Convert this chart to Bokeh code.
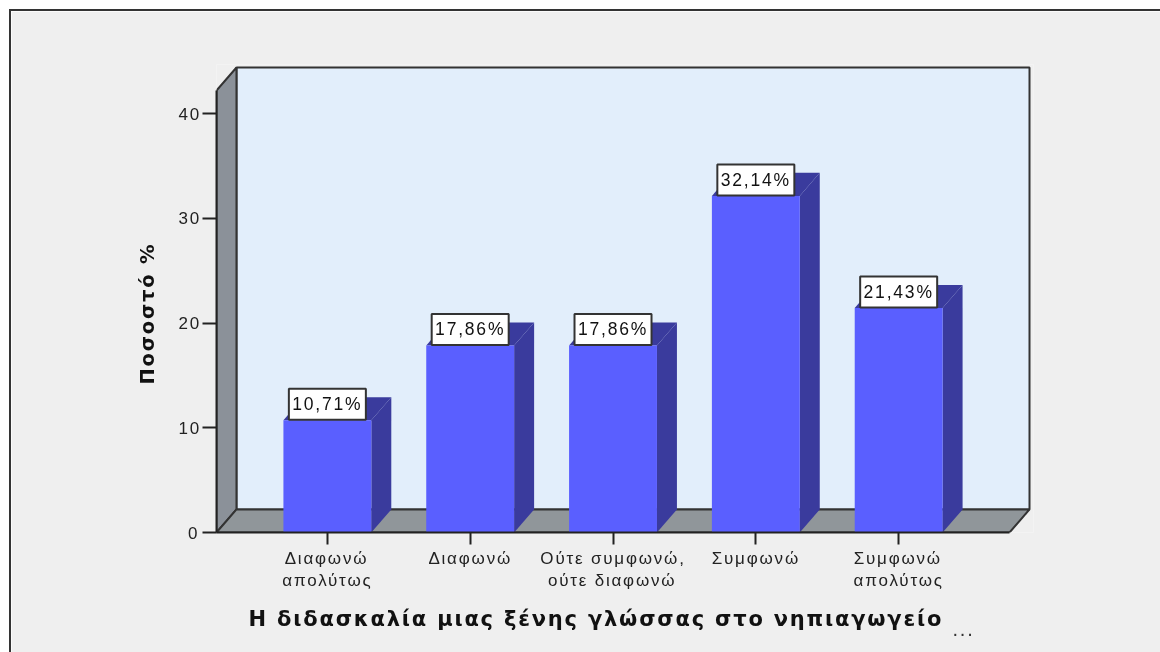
from bokeh.plotting import figure
from bokeh.models import Range1d, FixedTicker, LinearAxis, Title
from bokeh.embed import file_html
from bokeh.resources import INLINE
from bokeh.core.properties import value

categories = ["Διαφωνώ\nαπολύτως", "Διαφωνώ", "Ούτε συμφωνώ,\nούτε διαφωνώ", "Συμφωνώ", "Συμφωνώ\nαπολύτως"]
percentages = [10.71, 17.86, 17.86, 32.14, 21.43]
percent_labels = ["10,71%", "17,86%", "17,86%", "32,14%", "21,43%"]
y_ticks = [0, 10, 20, 30, 40]

BG = "#efefef"; EDGE = "#333333"; WALL = "#8b9199"; FLOOR = "#90969a"; BACK = "#e2eefb"
FRONT = "#5a5fff"; SIDE = "#3a3b9d"
FONT = "Liberation Sans"
BOLD_FONT = "DejaVu Sans"
SPACING = 1.8

# scale constants (reference pixels)
ORIGIN_X, ORIGIN_Y = 11, 11
W, H = 1149, 641
FL, FR, FB, FT = 216, 1034, 532, 65
PX_X, PX_Y = 143.0, 10.45
X0 = -(327 - FL) / PX_X
DX, DY = 20 / PX_X, 23 / PX_Y
xend = X0 + (FR - FL) / PX_X
yend = (FB - FT) / PX_Y
front_right = X0 + (1010 - FL) / PX_X
wall_top = (FB - 91) / PX_Y
BW = 88 / PX_X

p = figure(width=W, height=H, x_range=Range1d(X0, xend), y_range=Range1d(0, yend),
           output_backend="svg", toolbar_location=None, margin=(0, 0, 0, 0),
           min_border_left=FL - ORIGIN_X, min_border_right=ORIGIN_X + W - FR + 3,
           min_border_top=FT - ORIGIN_Y - 1, min_border_bottom=ORIGIN_Y + H - FB + 2,
           background_fill_color=BG, border_fill_color=BG, outline_line_color=None)
p.styles = {"position": "fixed", "left": "9px", "top": "9px",
            "border-left": "2px solid " + EDGE, "border-top": "2px solid " + EDGE,
            "box-sizing": "content-box", "letter-spacing": f"{SPACING}px"}
p.grid.visible = False

# back wall, left wall, floor
p.patch([X0 + DX, front_right + DX, front_right + DX, X0 + DX],
        [DY, DY, wall_top + DY, wall_top + DY], fill_color=BACK, line_color=EDGE, line_width=2)
p.patch([X0, X0 + DX, X0 + DX, X0], [0, DY, wall_top + DY, wall_top],
        fill_color=WALL, line_color=EDGE, line_width=2)
p.patch([X0, front_right, front_right + DX, X0 + DX], [0, 0, DY, DY],
        fill_color=FLOOR, line_color=EDGE, line_width=2)

xs = list(range(len(categories)))
lefts = [x - BW / 2 for x in xs]
rights = [x + BW / 2 for x in xs]

# side and top faces of the bars
side_x = [[r, r + DX, r + DX, r] for r in rights]
side_y = [[0, DY, v + DY, v] for v in percentages]
top_x = [[l, l + DX, r + DX, r] for l, r in zip(lefts, rights)]
top_y = [[v, v + DY, v + DY, v] for v in percentages]
p.patches(side_x, side_y, fill_color=SIDE, line_color=None)
p.patches(top_x, top_y, fill_color=SIDE, line_color=None)
p.vbar(x=xs, top=percentages, bottom=0, width=BW, fill_color=FRONT, line_color=None)

# value labels
BOX_W, BOX_H = 77, 31
mid = [v + (BOX_H / 2 + 0.5) / PX_Y for v in percentages]
p.rect(x=xs, y=mid, width=BOX_W, height=BOX_H, width_units="screen", height_units="screen",
       fill_color="white", line_color=EDGE, line_width=2)
p.text(x=xs, y=mid, text=percent_labels, text_align="center", text_baseline="middle",
       x_offset=-3 * SPACING, text_font=value(FONT), text_font_size="17.5px", text_color="#111111")

# axes
for ax in (p.xaxis[0], p.yaxis[0]):
    ax.axis_line_color = "#222222"; ax.axis_line_width = 2
    ax.major_tick_line_color = "#222222"; ax.major_tick_line_width = 2
    ax.major_tick_in = 0; ax.minor_tick_line_color = None
    ax.major_label_text_font = FONT
    ax.major_label_text_color = "#222222"
p.yaxis[0].ticker = FixedTicker(ticks=y_ticks)
p.yaxis[0].bounds = (0, wall_top)
p.yaxis[0].major_tick_out = 14
p.yaxis[0].major_label_standoff = 5
p.yaxis[0].major_label_text_font_size = "17px"
p.xaxis[0].ticker = FixedTicker(ticks=xs)
p.xaxis[0].bounds = (X0, front_right)
p.xaxis[0].major_tick_out = 12
p.xaxis[0].major_label_standoff = 0
p.xaxis[0].major_label_overrides = {i: "" for i in xs}

# a second axis carries the category names; ticks nudged so that letter-spaced text stays centred
label_ticks = [i - max(len(s) for s in c.split("\n")) * SPACING / 2 / PX_X for i, c in enumerate(categories)]
names = LinearAxis(ticker=FixedTicker(ticks=label_ticks),
                   major_label_overrides=dict(zip(label_ticks, categories)),
                   axis_line_color=None, major_tick_line_color=None, minor_tick_line_color=None,
                   major_tick_in=0, major_tick_out=0, major_label_standoff=4,
                   major_label_text_font=FONT, major_label_text_font_size="17px",
                   major_label_text_color="#222222")
p.add_layout(names, "below")

# axis titles
p.add_layout(Title(text="Η διδασκαλία μιας ξένης γλώσσας στο νηπιαγωγείο", align="left", offset=248 - FL,
                   standoff=22, text_font=BOLD_FONT, text_font_style="bold", text_font_size="21px",
                   text_color="#111111"), "below")
p.add_layout(Title(text="...", align="left", offset=952 - FL, standoff=-39, vertical_align="top",
                   text_font=FONT, text_font_style="normal", text_font_size="20px",
                   text_color="#333333"), "below")
p.add_layout(Title(text="Ποσοστό %", align="left", offset=FB - 384, standoff=33,
                   text_font=BOLD_FONT, text_font_style="bold", text_font_size="19.5px",
                   text_color="#111111"), "left")

open("out.html", "w").write(file_html(p, INLINE))
